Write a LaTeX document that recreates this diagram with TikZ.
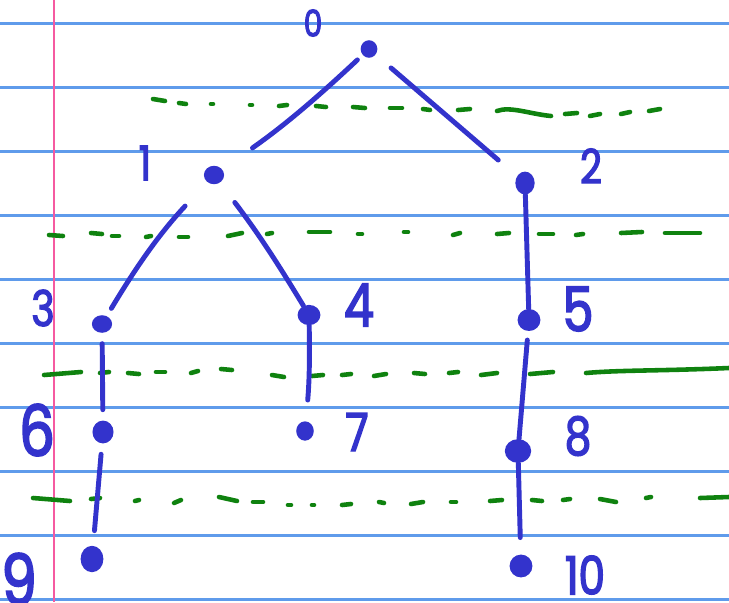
\documentclass[tikz,border=0pt]{standalone}
\usepackage{fontspec}
\setmainfont{Poppins}
\newfontfamily\hand{Poppins}[FakeStretch=0.8,FakeBold=2.6]
\usetikzlibrary{shapes.geometric}
\definecolor{ink}{RGB}{51,51,204}
\definecolor{rulecol}{RGB}{95,155,235}
\definecolor{margincol}{RGB}{245,90,160}
\definecolor{hint}{RGB}{15,130,15}
\begin{document}
\begin{tikzpicture}[x=0.02cm,y=-0.02cm,
  dot/.style={ellipse,fill=ink,draw=none,inner sep=0pt},
  edge/.style={draw=ink,line width=2.8pt,line cap=round},
  lbl/.style={text=ink,inner sep=0pt},
  ruled/.style={draw=rulecol,line width=1.2pt},
  guide/.style={draw=hint,line width=2.6pt,line cap=round}]
\useasboundingbox (0,0) rectangle (729,602);
\fill[white] (0,0) rectangle (729,602);
% notebook rules
\foreach \y in {23.5,87.5,151.5,215.5,279.5,343.5,407.5,471.5,535.5,599.5}
  \draw[ruled] (0,\y) -- (729,\y);
\draw[draw=margincol,line width=0.9pt] (54,0) -- (54,602);
% green level guides
\foreach \a/\b/\c/\d in {153/99/165/101,179/103/186/104,211/104/213/104,250/105/252/105,
  279/106/287/105,316/106/326/107,353/107/365/108,390/108/402/108,423/109/430/110,
  458/110/470/109,565/114/577/113,590/116/600/114,621/114/630/112,649/111/660/109}
  \draw[guide] (\a,\b) -- (\c,\d);
\draw[guide] (497,111) .. controls (510,106) and (530,114) .. (551,116);
\foreach \a/\b/\c/\d in {49/235/63/236,91/233/102/234,112/236/119/236,146/237/151/236,
  179/237/188/237,228/236/242/233,267/234/272/233,309/232/330/232,358/234/362/234,
  404/232/408/232,453/235/460/233,497/234/509/233,539/234/553/234,576/235/583/234,
  621/233/642/232,665/233/700/233}
  \draw[guide] (\a,\b) -- (\c,\d);
\foreach \a/\b/\c/\d in {44/375/81/372,100/373/109/372,128/373/139/374,156/372/165/372,
  191/373/198/371,221/369/232/370,272/375/284/377,312/376/323/375,342/375/351/374,
  374/376/386/374,414/373/425/374,449/373/458/372,481/375/497/373,530/374/553/372}
  \draw[guide] (\a,\b) -- (\c,\d);
\draw[guide] (586,373) .. controls (620,370) and (660,371) .. (729,368);
\foreach \a/\b/\c/\d in {33/498/70/501,91/499/100/498,135/501/139/500,174/503/181/500,
  219/497/237/501,253/502/263/502,288/505/291/505,312/505/314/505,342/505/351/504,
  379/502/384/503,411/504/423/502,451/502/456/502,490/501/502/500,532/500/542/501,
  563/500/570/499,600/499/616/502,646/498/651/497,700/498/729/497}
  \draw[guide] (\a,\b) -- (\c,\d);
% tree nodes
\node[dot,minimum width=9.5pt,minimum height=10pt] (n0) at (369,49) {};
\node[dot,minimum width=11.5pt,minimum height=10.5pt] (n1) at (214,175) {};
\node[dot,minimum width=11pt,minimum height=13pt] (n2) at (525,183) {};
\node[dot,minimum width=11.5pt,minimum height=10pt] (n3) at (102,324) {};
\node[dot,minimum width=13pt,minimum height=11.5pt] (n4) at (309,315) {};
\node[dot,minimum width=13pt,minimum height=12.5pt] (n5) at (529,320) {};
\node[dot,minimum width=12pt,minimum height=13pt] (n6) at (103,432) {};
\node[dot,minimum width=10pt,minimum height=11pt] (n7) at (305,431) {};
\node[dot,minimum width=15pt,minimum height=13.5pt] (n8) at (518,451) {};
\node[dot,minimum width=13pt,minimum height=15pt] (n9) at (92,559) {};
\node[dot,minimum width=13pt,minimum height=13pt] (n10) at (521,566) {};
% labels
\node[lbl,font=\hand\fontsize{21}{21}\selectfont] (l0) at (313,23) {0};
\node[lbl,font=\hand\fontsize{27}{27}\selectfont] (l1) at (145,163) {1};
\node[lbl,font=\hand\fontsize{27}{27}\selectfont] (l2) at (591,166) {2};
\node[lbl,font=\hand\fontsize{28}{28}\selectfont] (l3) at (43,308) {3};
\node[lbl,font=\hand\fontsize{34}{34}\selectfont] (l4) at (359,305) {4};
\node[lbl,font=\hand\fontsize{35}{35}\selectfont] (l5) at (578,309) {5};
\node[lbl,font=\hand\fontsize{40}{40}\selectfont] (l6) at (37,430) {6};
\node[lbl,font=\hand\fontsize{30}{30}\selectfont] (l7) at (357,432) {7};
\node[lbl,font=\hand\fontsize{30}{30}\selectfont] (l8) at (578,436) {8};
\node[lbl,font=\hand\fontsize{40}{40}\selectfont] (l9) at (19,579) {9};
\node[lbl,font=\hand\fontsize{30}{30}\selectfont] (l10) at (585,575) {10};
% connectors
\draw[edge,shorten <=4pt,shorten >=21pt] (n0) to[bend left=4] (n1);
\draw[edge,shorten <=11.5pt,shorten >=14pt] (n0) -- (n2);
\draw[edge,shorten <=18.5pt,shorten >=5pt] (n1) to[bend right=6] (n3);
\draw[edge,shorten <=14pt] (n1) to[bend left=3] (n4);
\draw[edge] (n2) -- (n5);
\draw[edge,shorten <=6pt,shorten >=6pt] (n3) -- (n6);
\draw[edge,shorten >=12pt] (n4) to[bend left=3] (n7);
\draw[edge,shorten <=5pt] (n5) -- (n8);
\draw[edge,shorten <=6pt,shorten >=8.5pt] (n6) -- (n9);
\draw[edge,shorten >=9.5pt] (n8) -- (n10);
\end{tikzpicture}
\end{document}
